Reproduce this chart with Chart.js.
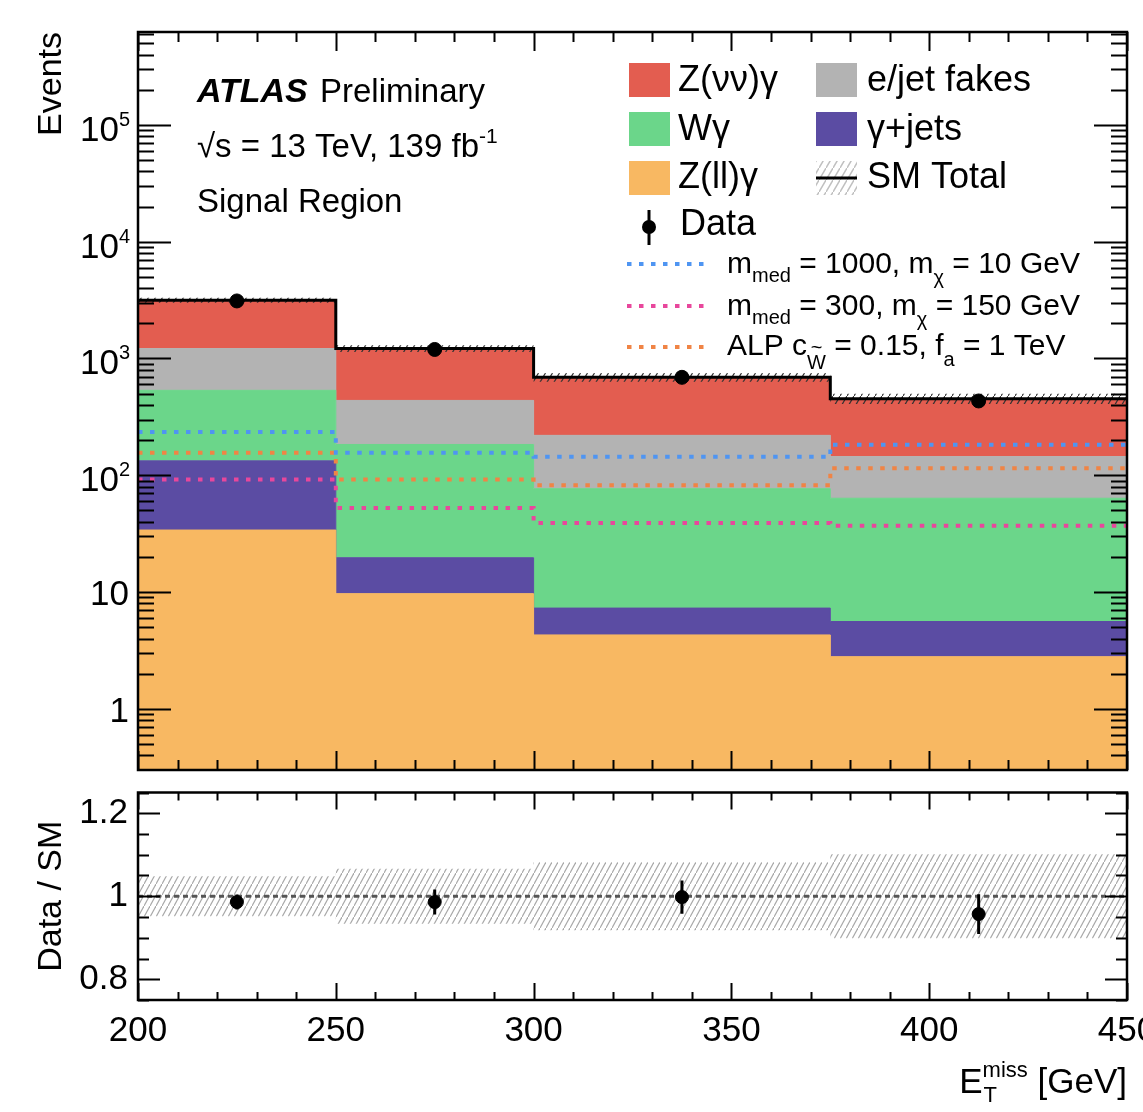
<!DOCTYPE html>
<html>
<head>
<meta charset="utf-8">
<script src="https://cdn.jsdelivr.net/npm/chart.js@4.4.1/dist/chart.umd.min.js"></script>
<style>
  html, body { margin: 0; padding: 0; background: #fff; }
  #wrap { position: relative; width: 1143px; height: 1112px; overflow: hidden; }
  canvas { position: absolute; left: 0; }
</style>
</head>
<body>
<div id="wrap">
  <canvas id="main" width="1143" height="785" style="top:0"></canvas>
  <canvas id="ratio" width="1143" height="327" style="top:785px"></canvas>
</div>
<script>
// ETmiss binning [GeV]
const binEdges = [200, 250, 300, 375, 450];
const binCenters = [225, 275, 337.5, 412.5];

// background yields per bin
const zllGamma = [34, 9.7, 4.3, 2.8];
const gammaJets = [99, 10, 3.0, 2.8];
const wGamma = [401, 164, 69.5, 58];
const fakes = [682, 254, 143, 81];
const znnGamma = [1940, 778, 470, 308];

// observed data
const dataCounts = [3110, 1195, 690, 433];
const dataErr = [56, 35, 26, 21];

// signal models (dotted lines)
const sigMed1000 = [235, 156, 144, 183];
const sigMed300 = [92, 52.5, 39, 37];
const sigALP = [156, 92, 82, 115];

// ratio panel
const ratioVals = [0.986, 0.986, 0.998, 0.957];
const ratioErr = [0.018, 0.03, 0.04, 0.048];
const smRelUnc = [0.048, 0.066, 0.082, 0.101];

// axis tick labels
const logLabels = [[1e5, '10', '5'], [1e4, '10', '4'], [1e3, '10', '3'], [1e2, '10', '2'], [10, '10', ''], [1, '1', '']];
const ratioTickVals = [0.8, 1, 1.2];

const FONT = '"Liberation Sans", Arial, Helvetica, sans-serif';
Chart.defaults.font.family = FONT;
Chart.defaults.color = '#000';

// cumulative stack tops
const cum = [];
[zllGamma, gammaJets, wGamma, fakes, znnGamma].forEach((arr, k) => {
    cum.push(arr.map((v, i) => v + (k ? cum[k - 1][i] : 0)));
});
const smTotal = cum[4];

function steps(vals) {
    return binEdges.map((x, i) => ({ x: x, y: vals[Math.min(i, vals.length - 1)] }));
}

function hatch(ctx, color, w, h, lw) {
    const c = document.createElement('canvas');
    c.width = w; c.height = h;
    const g = c.getContext('2d');
    g.strokeStyle = color;
    g.lineWidth = lw;
    g.beginPath();
    g.moveTo(-1, h + h / w); g.lineTo(w + 1, -h / w);
    g.stroke();
    return ctx.createPattern(c, 'repeat');
}

function richText(ctx, parts, x, y, size) {
    for (const p of parts) {
        const s = (p.sub || p.sup) ? Math.round(size * 0.65) : size;
        ctx.font = s + 'px ' + FONT;
        const dy = p.sub ? size * (p.low || 0.3) : p.sup ? -size * 0.42 : 0;
        ctx.fillText(p.t, x, y + dy);
        const w = ctx.measureText(p.t).width;
        if (p.tilde) {
            const tw = ctx.measureText('~').width;
            ctx.fillText('~', x + w / 2 - tw / 2, y + dy - s * 0.72);
        }
        x += w;
    }
    return x;
}

function errorBars(centers, vals, errs) {
    return {
        id: 'errbars',
        afterDatasetsDraw(chart) {
            const { ctx, scales } = chart;
            ctx.save();
            ctx.strokeStyle = '#000';
            ctx.lineWidth = 3;
            ctx.beginPath();
            centers.forEach((c, i) => {
                const x = scales.x.getPixelForValue(c);
                ctx.moveTo(x, scales.y.getPixelForValue(vals[i] - errs[i]));
                ctx.lineTo(x, scales.y.getPixelForValue(vals[i] + errs[i]));
            });
            ctx.stroke();
            ctx.restore();
        }
    };
}

// ROOT style frame with inward ticks
function frameTicks(xLens, yTickList) {
    return {
        id: 'frameTicks',
        afterDraw(chart) {
            const { ctx, chartArea: a, scales } = chart;
            ctx.save();
            ctx.strokeStyle = '#000';
            ctx.lineWidth = 2;
            ctx.beginPath();
            for (let v = 200; v <= 450; v += 10) {
                const x = Math.round(scales.x.getPixelForValue(v)) + 0.5;
                const len = v % 50 === 0 ? xLens[0] : xLens[1];
                ctx.moveTo(x, a.top); ctx.lineTo(x, a.top + len);
                ctx.moveTo(x, a.bottom); ctx.lineTo(x, a.bottom - len);
            }
            yTickList.forEach(([v, len]) => {
                const y = Math.round(scales.y.getPixelForValue(v)) + 0.5;
                ctx.moveTo(a.left, y); ctx.lineTo(a.left + len, y);
                ctx.moveTo(a.right, y); ctx.lineTo(a.right - len, y);
            });
            ctx.stroke();
            ctx.lineWidth = 2.5;
            ctx.strokeRect(a.left, a.top, a.right - a.left, a.bottom - a.top);
            ctx.restore();
        }
    };
}

const mainCtx = document.getElementById('main').getContext('2d');
const ratioCtx = document.getElementById('ratio').getContext('2d');
const hatchDark = hatch(mainCtx, '#333', 7, 12, 1.2);
const hatchLight = hatch(ratioCtx, '#a8a8a8', 6, 11, 1.2);
const hatchLegend = hatch(mainCtx, '#c0c0c0', 7, 12, 1.5);

const stackColors = ['#f8b862', '#5b4ca3', '#6bd68a', '#b3b3b3', '#e35d50'];
const stackLabels = ['Z(ll)γ', 'γ+jets', 'Wγ', 'e/jet fakes', 'Z(νν)γ'];
const sigColors = ['#4f95f2', '#e8479c', '#f08445'];

const Y_MIN = 0.303, Y_MAX = 6.24e5;

const mainTicksY = [];
for (let d = -1; d <= 5; d++) {
    for (let k = 1; k <= 9; k++) {
        const v = k * Math.pow(10, d);
        if (v >= Y_MIN && v <= Y_MAX) mainTicksY.push([v, k === 1 ? 33 : 16]);
    }
}
const ratioTicksY = [];
for (let i = 15; i <= 25; i++) ratioTicksY.push([i / 20, i % 4 === 0 ? 22 : 11]);

function sigSet(label, vals, color) {
    return {
        label: label, data: steps(vals), stepped: true, fill: false,
        borderColor: color, borderWidth: 4, borderDash: [4.5, 7.5], borderCapStyle: 'butt',
        pointRadius: 0, order: 5
    };
}

const mainLabels = {
    id: 'mainLabels',
    afterDraw(chart) {
        const { ctx, scales } = chart;
        ctx.save();
        ctx.fillStyle = '#000';
        ctx.textBaseline = 'alphabetic';

        // y tick labels with exponents
        logLabels.forEach(([v, base, exp]) => {
            const y = scales.y.getPixelForValue(v);
            if (exp) {
                ctx.font = '35px ' + FONT;
                ctx.textAlign = 'right';
                ctx.fillText(base, 119, y + 16);
                ctx.font = '20px ' + FONT;
                ctx.textAlign = 'left';
                ctx.fillText(exp, 119, y + 1);
            } else {
                ctx.font = '35px ' + FONT;
                ctx.textAlign = 'right';
                ctx.fillText(base, 129, y + 13);
            }
        });

        ctx.textAlign = 'left';
        // ATLAS label
        ctx.font = 'italic bold 34px ' + FONT;
        ctx.fillText('ATLAS', 197, 102);
        ctx.font = '33px ' + FONT;
        ctx.fillText('Preliminary', 320, 102);
        richText(ctx, [{ t: '√s = 13 TeV, 139 fb' }, { t: '-1', sup: true }], 197, 157, 33);
        ctx.font = '33px ' + FONT;
        ctx.fillText('Signal Region', 197, 212);

        // legend boxes
        const boxes = [
            [629, 63, stackColors[4], 'Z(νν)γ', 678, 91],
            [816, 63, stackColors[3], 'e/jet fakes', 867, 91],
            [629, 112, stackColors[2], 'Wγ', 678, 140],
            [816, 112, stackColors[1], 'γ+jets', 867, 140],
            [629, 161, stackColors[0], 'Z(ll)γ', 678, 188]
        ];
        boxes.forEach(([bx, by, col, txt, tx, ty]) => {
            ctx.fillStyle = col;
            ctx.fillRect(bx, by, 41, 34);
            ctx.fillStyle = '#000';
            ctx.font = '36px ' + FONT;
            ctx.fillText(txt, tx, ty);
        });
        // SM total entry
        ctx.fillStyle = hatchLegend;
        ctx.fillRect(816, 161, 41, 34);
        ctx.strokeStyle = '#000';
        ctx.lineWidth = 3;
        ctx.beginPath(); ctx.moveTo(816, 178); ctx.lineTo(857, 178); ctx.stroke();
        ctx.fillStyle = '#000';
        ctx.font = '36px ' + FONT;
        ctx.fillText('SM Total', 867, 188);
        // data entry
        ctx.beginPath(); ctx.moveTo(649, 210); ctx.lineTo(649, 245); ctx.stroke();
        ctx.beginPath(); ctx.arc(649, 227, 7, 0, Math.PI * 2); ctx.fill();
        ctx.fillText('Data', 680, 235);

        // signal entries
        const sigRows = [
            [264, sigColors[0], [{ t: 'm' }, { t: 'med', sub: true }, { t: ' = 1000, m' }, { t: 'χ', sub: true, low: 0.35 }, { t: ' = 10 GeV' }], 273],
            [306, sigColors[1], [{ t: 'm' }, { t: 'med', sub: true }, { t: ' = 300, m' }, { t: 'χ', sub: true, low: 0.35 }, { t: ' = 150 GeV' }], 315],
            [347, sigColors[2], [{ t: 'ALP c' }, { t: 'W', sub: true, low: 0.45, tilde: true }, { t: ' = 0.15, f' }, { t: 'a', sub: true, low: 0.38 }, { t: ' = 1 TeV' }], 355]
        ];
        sigRows.forEach(([ly, col, parts, ty]) => {
            ctx.strokeStyle = col;
            ctx.lineWidth = 4;
            ctx.setLineDash([4.5, 7.5]);
            ctx.beginPath(); ctx.moveTo(627, ly); ctx.lineTo(709, ly); ctx.stroke();
            ctx.setLineDash([]);
            ctx.fillStyle = '#000';
            richText(ctx, parts, 727, ty, 30);
        });
        ctx.restore();
    }
};

const mainChart = new Chart(mainCtx, {
    type: 'line',
    data: {
        datasets: [
            {
                label: 'Data', data: binCenters.map((x, i) => ({ x: x, y: dataCounts[i] })),
                showLine: false, pointRadius: 7, pointBackgroundColor: '#000', pointBorderColor: '#000', order: 0
            },
            {
                label: 'SM Total', data: steps(smTotal), stepped: true, fill: false,
                borderColor: '#000', borderWidth: 3, pointRadius: 0, order: 2
            },
            {
                label: 'unc lo', data: steps(smTotal.map((v, i) => v * (1 - smRelUnc[i]))), stepped: true,
                fill: false, borderColor: 'rgba(0,0,0,0)', borderWidth: 0, pointRadius: 0, order: 4
            },
            {
                label: 'unc hi', data: steps(smTotal.map((v, i) => v * (1 + smRelUnc[i]))), stepped: true,
                fill: '-1', backgroundColor: hatchDark, borderColor: 'rgba(0,0,0,0)', borderWidth: 0, pointRadius: 0, order: 4
            },
            sigSet('m_med = 1000, m_chi = 10 GeV', sigMed1000, sigColors[0]),
            sigSet('m_med = 300, m_chi = 150 GeV', sigMed300, sigColors[1]),
            sigSet('ALP', sigALP, sigColors[2]),
            ...cum.map((vals, k) => ({
                label: stackLabels[k], data: steps(vals), stepped: true,
                fill: k === 0 ? 'start' : '-1',
                backgroundColor: stackColors[k], borderColor: stackColors[k], borderWidth: 1,
                pointRadius: 0, order: 10
            }))
        ]
    },
    options: {
        responsive: false,
        animation: false,
        layout: { padding: { top: 32, right: 16, bottom: 15, left: 0 } },
        scales: {
            x: { type: 'linear', min: 200, max: 450, display: false },
            y: {
                type: 'logarithmic', min: Y_MIN, max: Y_MAX,
                afterFit: (s) => { s.width = 138; s.paddingTop = 0; s.paddingBottom = 0; },
                grid: { display: false, drawTicks: false },
                border: { display: false },
                ticks: { display: false },
                title: {
                    display: true, text: 'Events', align: 'end', color: '#000',
                    font: { size: 34 }, padding: { top: 31, bottom: 0 }
                }
            }
        },
        plugins: {
            legend: { display: false },
            tooltip: { enabled: false },
            filler: { propagate: false }
        }
    },
    plugins: [errorBars(binCenters, dataCounts, dataErr), frameTicks([19, 10], mainTicksY), mainLabels]
});

const ratioTitle = {
    id: 'ratioTitle',
    afterDraw(chart) {
        const { ctx } = chart;
        ctx.save();
        ctx.fillStyle = '#000';
        ctx.textAlign = 'left';
        ctx.textBaseline = 'alphabetic';
        ctx.font = '35px ' + FONT;
        const wE = ctx.measureText('E').width;
        const wG = ctx.measureText(' [GeV]').width;
        ctx.font = '22px ' + FONT;
        const wS = ctx.measureText('miss').width;
        let x = 1127 - (wE + wS + wG);
        const y = 308;
        ctx.font = '35px ' + FONT;
        ctx.fillText('E', x, y);
        x += wE;
        ctx.font = '22px ' + FONT;
        ctx.fillText('T', x + 1, y + 9);
        ctx.fillText('miss', x, y - 16);
        x += wS;
        ctx.font = '35px ' + FONT;
        ctx.fillText(' [GeV]', x, y);
        ctx.restore();
    }
};

const ratioChart = new Chart(ratioCtx, {
    type: 'line',
    data: {
        datasets: [
            {
                label: 'Data / SM', data: binCenters.map((x, i) => ({ x: x, y: ratioVals[i] })),
                showLine: false, pointRadius: 6.5, pointBackgroundColor: '#000', pointBorderColor: '#000', order: 0
            },
            {
                label: 'one', data: [{ x: 200, y: 1 }, { x: 450, y: 1 }], fill: false,
                borderColor: '#555', borderWidth: 3, borderDash: [5, 4], pointRadius: 0, order: 1
            },
            {
                label: 'band lo', data: steps(smRelUnc.map(u => 1 - u)), stepped: true, fill: false,
                borderColor: 'rgba(0,0,0,0)', borderWidth: 0, pointRadius: 0, order: 3
            },
            {
                label: 'band hi', data: steps(smRelUnc.map(u => 1 + u)), stepped: true, fill: '-1',
                backgroundColor: hatchLight, borderColor: 'rgba(0,0,0,0)', borderWidth: 0, pointRadius: 0, order: 3
            }
        ]
    },
    options: {
        responsive: false,
        animation: false,
        layout: { padding: { top: 2, right: 16, bottom: 0, left: 0 } },
        scales: {
            x: {
                type: 'linear', min: 200, max: 450,
                afterFit: (s) => { s.height = 112; s.paddingLeft = 0; s.paddingRight = 0; },
                grid: { display: false, drawTicks: false },
                border: { display: false },
                ticks: { stepSize: 50, padding: 10, autoSkip: false, maxRotation: 0, color: '#000', font: { size: 35 } }
            },
            y: {
                min: 0.75, max: 1.25,
                afterBuildTicks: (s) => { s.ticks = ratioTickVals.map(v => ({ value: v })); },
                afterFit: (s) => { s.width = 138; s.paddingTop = 0; s.paddingBottom = 0; },
                grid: { display: false, drawTicks: false },
                border: { display: false },
                ticks: {
                    padding: 10, autoSkip: false, color: '#000', font: { size: 35 },
                    callback: (v) => Math.abs(v - 1) < 1e-6 ? '1' : Number(v).toFixed(1)
                },
                title: {
                    display: true, text: 'Data / SM', color: '#000',
                    font: { size: 34 }, padding: { top: 31, bottom: 0 }
                }
            }
        },
        plugins: {
            legend: { display: false },
            tooltip: { enabled: false }
        }
    },
    plugins: [errorBars(binCenters, ratioVals, ratioErr), frameTicks([17, 8], ratioTicksY), ratioTitle]
});
</script>
</body>
</html>
